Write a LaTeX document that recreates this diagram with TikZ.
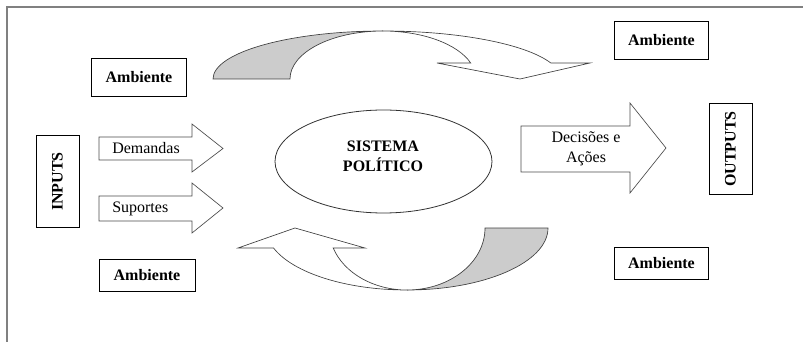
\documentclass[tikz,border=0pt]{standalone}
\usepackage{fontspec}
\setmainfont{Liberation Serif}
\usetikzlibrary{shapes.geometric}
\definecolor{bandfill}{HTML}{CCCCCC}
\definecolor{framegray}{HTML}{808080}
\tikzset{
  txt/.style={font=\fontsize{12}{15}\selectfont, inner sep=0pt},
  ambbox/.style={draw, line width=0.6pt, font=\fontsize{12}{15}\selectfont\bfseries, minimum width=71pt},
  iobox/.style={draw, line width=0.6pt, font=\fontsize{12}{15}\selectfont\bfseries, rotate=90, minimum width=68.5pt, minimum height=32.25pt},
  blockarrow/.style={draw=black!70, line width=0.5pt, fill=white, line join=miter},
  band/.style={draw=black!75, line width=0.5pt}
}
\begin{document}
\begin{tikzpicture}[x=0.75pt,y=0.75pt]
  \useasboundingbox (0,0) rectangle (803,-342);
  \draw[framegray, line width=0.8pt] (7,-342) |- (803,-7);
  % boxes
  \node[ambbox, minimum height=28.5pt] (amb1) at (139,-77) {Ambiente};
  \node[ambbox, minimum height=28.5pt] (amb2) at (661.5,-40) {Ambiente};
  \node[ambbox, minimum height=24pt, minimum width=72pt] (amb3) at (147,-275) {Ambiente};
  \node[ambbox, minimum height=24pt] (amb4) at (661.5,-263) {Ambiente};
  \node[iobox] (inp) at (57.5,-181.5) {INPUTS};
  \node[iobox] (outp) at (730.5,-149) {OUTPUTS};
  \node[draw=black!80, line width=0.6pt, ellipse, minimum width=162.75pt, minimum height=77.25pt] (sis) at (383.5,-161.5) {};
  \node[txt, font=\fontsize{12}{15}\selectfont\bfseries, align=center] (sislbl) at (383,-156) {SISTEMA\\POLÍTICO};
  % block arrows
  \draw[blockarrow] (99,-137) -- (192,-137) -- (192,-124) -- (223,-148.5) -- (192,-172) -- (192,-160) -- (99,-160) -- cycle;
  \node[txt, anchor=west] (dem) at (112,-148.5) {Demandas};
  \draw[blockarrow] (99,-196) -- (192,-196) -- (192,-183) -- (223,-208) -- (192,-233) -- (192,-221) -- (99,-221) -- cycle;
  \node[txt, anchor=west] (sup) at (112,-208.5) {Suportes};
  \draw[blockarrow] (521,-126) -- (630,-126) -- (630,-103) -- (666,-148) -- (630,-193) -- (630,-172) -- (521,-172) -- cycle;
  \node[txt, align=center] (dec) at (586,-149) {Decisões e\\Ações};
  % upper curved arrow
  \fill[bandfill] (213,-79) arc[start angle=180, end angle=90, x radius=170, y radius=48]
    arc[start angle=90, end angle=180, x radius=93, y radius=48] -- cycle;
  \draw[band] (213,-79) arc[start angle=180, end angle=90, x radius=170, y radius=48]
    arc[start angle=90, end angle=180, x radius=93, y radius=48] -- cycle;
  \draw[band, fill=white, line join=miter] (383,-31) arc[start angle=90, end angle=19.5, x radius=178, y radius=48]
    -- (590,-63) -- (520,-79) -- (437,-63) -- (470.7,-63)
    arc[start angle=19.5, end angle=90, x radius=93, y radius=48] -- cycle;
  % lower curved arrow
  \fill[bandfill] (548,-228) arc[start angle=0, end angle=-90, x radius=141, y radius=62]
    arc[start angle=-90, end angle=0, x radius=78, y radius=62] -- cycle;
  \draw[band] (548,-228) arc[start angle=0, end angle=-90, x radius=141, y radius=62]
    arc[start angle=-90, end angle=0, x radius=78, y radius=62] -- cycle;
  \draw[band, fill=white, line join=miter] (407,-290) arc[start angle=-90, end angle=-161.2, x radius=141, y radius=62]
    -- (238,-248) -- (295,-228) -- (365,-248) -- (333.2,-248)
    arc[start angle=-161.2, end angle=-90, x radius=78, y radius=62] -- cycle;
\end{tikzpicture}
\end{document}
